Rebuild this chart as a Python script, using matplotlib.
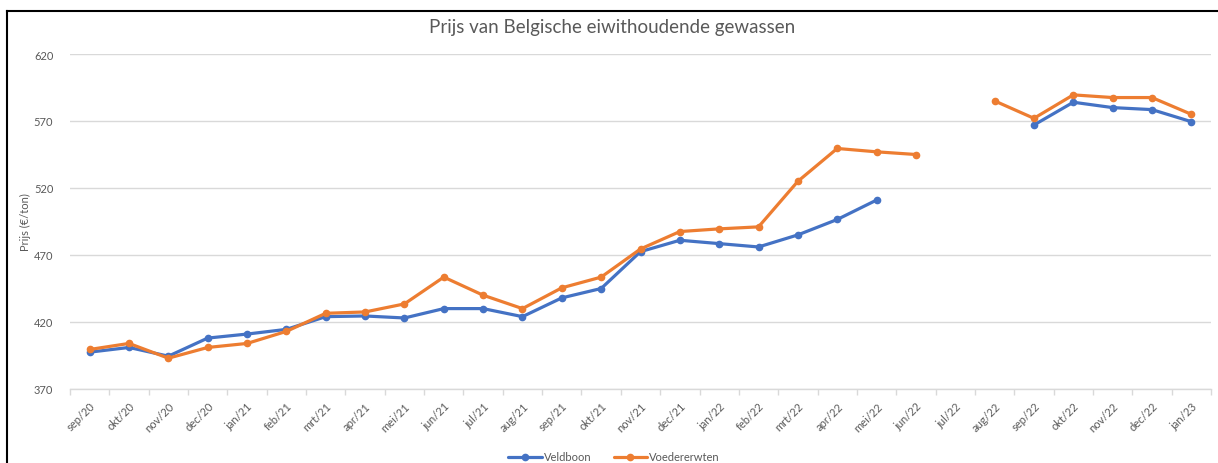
import numpy as np
import matplotlib
matplotlib.use("Agg")
import matplotlib.pyplot as plt
from matplotlib.lines import Line2D

plt.rcParams['font.family'] = ['Lato', 'DejaVu Sans']

months = ["sep/20", "okt/20", "nov/20", "dec/20", "jan/21", "feb/21", "mrt/21",
          "apr/21", "mei/21", "jun/21", "jul/21", "aug/21", "sep/21", "okt/21",
          "nov/21", "dec/21", "jan/22", "feb/22", "mrt/22", "apr/22", "mei/22",
          "jun/22", "jul/22", "aug/22", "sep/22", "okt/22", "nov/22", "dec/22",
          "jan/23"]

nan = np.nan
veldboon = [397.5, 401, 394.5, 408, 411, 414.5, 424, 424.5, 423, 430, 430, 424,
            438, 445, 472.5, 481, 478.5, 476, 485, 496.5, 511,
            nan, nan, nan, 567, 584, 580, 578.5, 569.5]
voedererwten = [399.5, 404, 393, 401, 404, 413, 426.5, 427.5, 433.5, 453.5, 440, 430,
                445.5, 453.5, 474.5, 487.5, 489.5, 491, 525, 549.5, 547,
                545, nan, 585, 572, 589.5, 587.5, 587.5, 575]

BLUE = "#4472C4"
ORANGE = "#ED7D31"
GREY = "#595959"

fig = plt.figure(figsize=(12.18, 4.64), dpi=100)
ax = fig.add_axes([70 / 1218, 1 - 390 / 464, (1211 - 70) / 1218, (390 - 55) / 464])

x = np.arange(len(months))
ax.plot(x, veldboon, color=BLUE, lw=2.3, marker="o", ms=4.5, label="Veldboon",
        solid_capstyle="round", solid_joinstyle="round")
ax.plot(x, voedererwten, color=ORANGE, lw=2.3, marker="o", ms=4.5, label="Voedererwten",
        solid_capstyle="round", solid_joinstyle="round")

ax.set_xlim(-0.5, len(months) - 0.5)
ax.set_ylim(370, 620)
ax.set_yticks([370, 420, 470, 520, 570, 620])
ax.set_xticks(x)
ax.set_xticklabels(months, rotation=45, ha="right", rotation_mode="anchor")
ax.set_xticks(np.arange(len(months) + 1) - 0.5, minor=True)
ax.tick_params(axis="x", which="major", length=0, pad=8, labelsize=8, labelcolor=GREY)
ax.tick_params(axis="x", which="minor", length=4, color="#D9D9D9", width=1)
ax.tick_params(axis="y", length=0, pad=12, labelsize=8, labelcolor=GREY)

ax.grid(axis="y", color="#D9D9D9", lw=1)
ax.set_axisbelow(True)
for s in ["top", "right", "left"]:
    ax.spines[s].set_visible(False)
ax.spines["bottom"].set_color("#D9D9D9")
ax.spines["bottom"].set_linewidth(1)

ax.set_ylabel("Prijs (€/ton)", fontsize=8, color=GREY, labelpad=2)
fig.text(612 / 1218, 1 - 27 / 464, "Prijs van Belgische eiwithoudende gewassen",
         ha="center", va="center", fontsize=13.5, color=GREY)

fig.legend(loc="center", bbox_to_anchor=(614 / 1218, 1 - 458 / 464), ncol=2,
           frameon=False, fontsize=8, handlelength=3, columnspacing=2,
           handletextpad=0.2, labelcolor=GREY)

# outer frame (top and left edges visible in the screenshot)
fig.add_artist(Line2D([7 / 1218, 1], [1 - 12 / 464, 1 - 12 / 464], color="black", lw=1.5,
                      transform=fig.transFigure))
fig.add_artist(Line2D([7 / 1218, 7 / 1218], [0, 1 - 12 / 464], color="black", lw=1.5,
                      transform=fig.transFigure))

fig.savefig("out.png", dpi=100)
